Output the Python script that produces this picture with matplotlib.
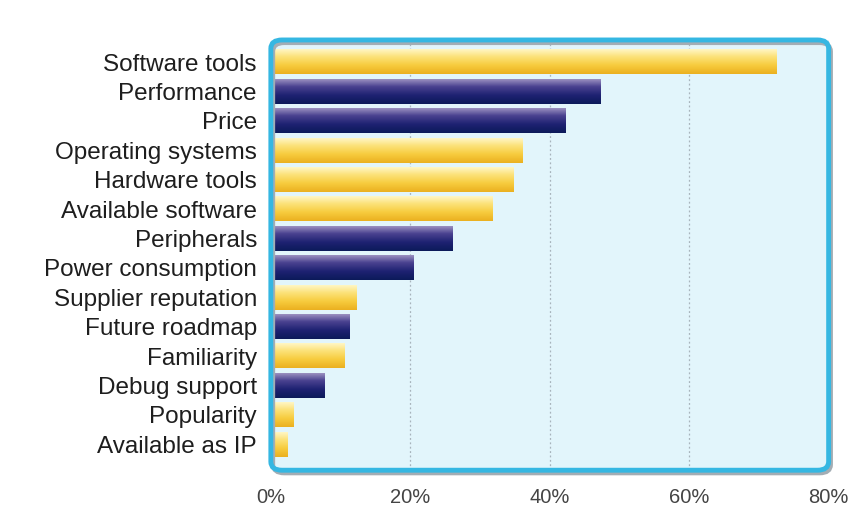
import matplotlib
matplotlib.use("Agg")
import matplotlib.pyplot as plt
from matplotlib.patches import FancyBboxPatch
from matplotlib.colors import LinearSegmentedColormap
import numpy as np

# survey data (percent of respondents)
factors = ["Software tools", "Performance", "Price", "Operating systems",
           "Hardware tools", "Available software", "Peripherals",
           "Power consumption", "Supplier reputation", "Future roadmap",
           "Familiarity", "Debug support", "Popularity", "Available as IP"]
percents = [72.5, 47.3, 42.3, 36.1, 34.8, 31.7, 26.1, 20.4, 12.2, 11.3,
            10.5, 7.7, 3.2, 2.3]
# "y" = yellow bar, "n" = navy bar
bar_kind = ["y", "n", "n", "y", "y", "y", "n", "n", "y", "n", "y", "n", "y", "y"]
xticks = [0, 20, 40, 60, 80]
xtick_labels = ["0%", "20%", "40%", "60%", "80%"]

# glossy gradients, top -> bottom
grads = {
    "y": LinearSegmentedColormap.from_list("yel", [(0, "#FFF6C4"), (0.3, "#FCE27A"),
                                                  (0.65, "#F7CC3E"), (1, "#EBB020")]),
    "n": LinearSegmentedColormap.from_list("nav", [(0, "#9A90C0"), (0.3, "#4A4290"),
                                                  (0.65, "#1E2272"), (1, "#0C1A5A")]),
}

plt.rcParams['font.family'] = ['Liberation Sans', 'DejaVu Sans']

fig = plt.figure(figsize=(8.49, 5.19), dpi=100)
ax = fig.add_axes([0.319, 0.094, 0.657, 0.829])
ax.set_facecolor("#E2F5FB")

y = np.arange(len(factors))
bars = ax.barh(y, percents, height=0.84, color="none", zorder=3)

ramp = np.linspace(0, 1, 64).reshape(-1, 1)
for b, k in zip(bars, bar_kind):
    x0, y0 = b.get_x(), b.get_y()
    w, hh = b.get_width(), b.get_height()
    # y axis is inverted, so extent top is y0 (smaller value)
    ax.imshow(ramp, cmap=grads[k], aspect="auto", origin="upper",
              extent=(x0, x0 + w, y0 + hh, y0), zorder=3, interpolation="bilinear")

ax.set_xlim(0, 80)
ax.set_ylim(len(factors) - 0.12, -0.75)

ax.set_yticks(y)
ax.set_yticklabels(factors, fontsize=17.5, color="#1e1e1e")
ax.set_xticks(xticks)
ax.set_xticklabels(xtick_labels, fontsize=14.5, color="#444444")
ax.tick_params(length=0)
ax.tick_params(axis="y", pad=10)
ax.tick_params(axis="x", pad=13)

for gx in xticks[1:-1]:
    ax.axvline(gx, color="#A8B4BC", linestyle=(0, (1.5, 2)), linewidth=0.9, zorder=1)

for s in ax.spines.values():
    s.set_visible(False)

# rounded cyan frame with a faint gray shadow at right/bottom
shadow = FancyBboxPatch((0.004, -0.007), 1.0, 1.0, boxstyle="round,pad=0,rounding_size=0.02",
                        transform=ax.transAxes, fill=False, edgecolor="#A3ADB4",
                        linewidth=3, clip_on=False, zorder=6)
ax.add_patch(shadow)
frame = FancyBboxPatch((0, 0), 1, 1, boxstyle="round,pad=0,rounding_size=0.02",
                       transform=ax.transAxes, fill=False, edgecolor="#35B7E2",
                       linewidth=3.5, clip_on=False, zorder=7)
ax.add_patch(frame)

fig.savefig("out.png", dpi=100)
